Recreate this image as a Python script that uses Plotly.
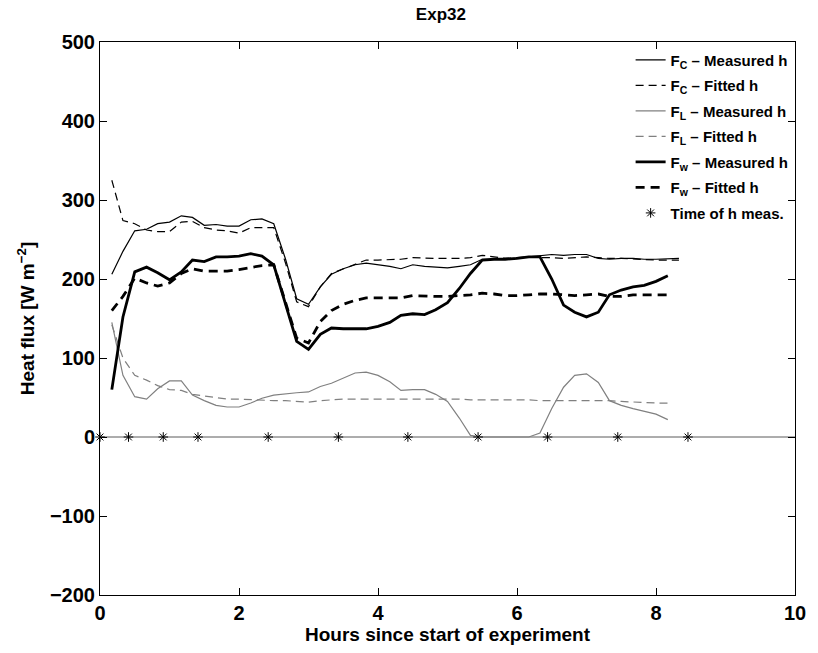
import plotly.graph_objects as go

hours = [0.17, 0.33, 0.50, 0.67, 0.83, 1.00, 1.17, 1.33, 1.50, 1.67,
         1.83, 2.00, 2.17, 2.33, 2.50, 2.67, 2.83, 3.00, 3.17, 3.33,
         3.50, 3.67, 3.83, 4.00, 4.17, 4.33, 4.50, 4.67, 4.83, 5.00,
         5.17, 5.33, 5.50, 5.67, 5.83, 6.00, 6.17, 6.33, 6.50, 6.67,
         6.83, 7.00, 7.17, 7.33, 7.50, 7.67, 7.83, 8.00, 8.17, 8.33]

fc_meas = [206, 235, 261, 263, 270, 272, 280, 278, 268, 269,
           267, 267, 275, 276, 270, 225, 175, 168, 190, 206,
           213, 218, 220, 218, 216, 213, 218, 216, 215, 214,
           216, 218, 225, 225, 226, 226, 228, 229, 231, 230,
           231, 231, 226, 225, 226, 226, 225, 225, 226, 226]
fc_fit = [325, 274, 270, 262, 260, 260, 272, 273, 265, 262,
          261, 258, 265, 265, 265, 220, 171, 165, 190, 207,
          213, 219, 224, 224, 225, 225, 227, 226, 226, 226,
          226, 227, 230, 228, 226, 227, 228, 227, 227, 226,
          227, 228, 227, 226, 226, 225, 225, 224, 224, 224]
fl_meas = [145, 78, 51, 48, 61, 71, 71, 53, 46, 40,
           38, 38, 43, 49, 53, 55, 56, 57, 64, 68,
           75, 81, 82, 78, 70, 59, 60, 60, 54, 45,
           24, 2, 0, 0, 0, 0, 0, 5, 36, 63,
           78, 80, 69, 46, 40, 36, 33, 29, 22]
fl_fit = [142, 100, 78, 72, 65, 60, 59, 54, 52, 50,
          48, 48, 47, 47, 46, 46, 45, 44, 46, 47,
          48, 48, 48, 48, 48, 48, 48, 48, 48, 48,
          48, 47, 47, 47, 47, 47, 47, 46, 46, 46,
          46, 46, 46, 46, 45, 44, 44, 43, 43]
fw_meas = [60, 152, 209, 215, 208, 199, 209, 224, 222, 228,
           228, 229, 232, 229, 218, 169, 121, 111, 130, 138,
           137, 137, 137, 140, 145, 154, 156, 155, 161, 170,
           188, 207, 224, 225, 225, 226, 228, 228, 200, 167,
           158, 152, 158, 180, 186, 190, 192, 197, 204]
fw_fit = [160, 178, 201, 195, 191, 195, 207, 213, 210, 210,
          210, 212, 215, 217, 218, 171, 125, 119, 146, 160,
          168, 173, 176, 176, 176, 176, 179, 178, 178, 178,
          179, 180, 182, 181, 179, 179, 180, 181, 181, 180,
          179, 180, 181, 178, 178, 180, 180, 180, 180]

meas_times = [0, 0.41, 0.91, 1.41, 2.42, 3.43, 4.43, 5.44, 6.44, 7.45, 8.46]
meas_vals = [0] * len(meas_times)

zero_x = [0, 10]
zero_y = [0, 0]

labels = ["F<sub>C</sub> – Measured h", "F<sub>C</sub> – Fitted h",
          "F<sub>L</sub> – Measured h", "F<sub>L</sub> – Fitted h",
          "F<sub>w</sub> – Measured h", "F<sub>w</sub> – Fitted h",
          "Time of h meas."]

GRAY = "rgb(128,128,128)"
FONT = "Liberation Sans, Arial, sans-serif"

fig = go.Figure()

fig.add_trace(go.Scatter(x=zero_x, y=zero_y, mode="lines",
                         line=dict(color="rgb(90,90,90)", width=1),
                         showlegend=False, hoverinfo="skip"))

series = [
    (fc_meas, labels[0], "black", 1.2, "solid"),
    (fc_fit, labels[1], "black", 1.2, "8px,5px"),
    (fl_meas, labels[2], GRAY, 1.2, "solid"),
    (fl_fit, labels[3], GRAY, 1.2, "8px,5px"),
    (fw_meas, labels[4], "black", 2.8, "solid"),
    (fw_fit, labels[5], "black", 2.8, "9px,6px"),
]
for i, (vals, name, col, w, dash) in enumerate(series):
    fig.add_trace(go.Scatter(x=hours[:len(vals)], y=vals, mode="lines",
                             name=name, legendgroup=f"g{i}",
                             line=dict(color=col, width=w, dash=dash)))

fig.add_trace(go.Scatter(x=meas_times, y=meas_vals, mode="markers",
                         name=labels[6], legendgroup="g6",
                         cliponaxis=False,
                         marker=dict(symbol="asterisk-open", size=8,
                                     color="black",
                                     line=dict(color="black", width=1))))

axis_common = dict(showline=True, linecolor="black", linewidth=1,
                   mirror="ticks", ticks="inside", ticklen=7,
                   tickcolor="black", showgrid=False, zeroline=False,
                   tickfont=dict(family=FONT, size=20, color="black",
                                 weight="bold"))

fig.update_xaxes(range=[0, 10], tickvals=[0, 2, 4, 6, 8, 10],
                 title=dict(text="Hours since start of experiment",
                            font=dict(family=FONT, size=19, color="black",
                                      weight="bold"),
                            standoff=1),
                 **axis_common)
fig.update_yaxes(range=[-200, 500],
                 tickvals=[-200, -100, 0, 100, 200, 300, 400, 500],
                 title=dict(text="Heat flux [W m<sup>−2</sup>]",
                            font=dict(family=FONT, size=19, color="black",
                                      weight="bold"),
                            standoff=10),
                 **axis_common)

fig.update_layout(
    width=818, height=653,
    margin=dict(l=100, r=17, t=42, b=58, pad=0),
    paper_bgcolor="white", plot_bgcolor="white",
    title=dict(text="Exp32", x=0.539, xanchor="center", y=0.988,
               yanchor="top",
               font=dict(family=FONT, size=17, color="black",
                         weight="bold")),
    showlegend=True,
    legend=dict(x=0.998, xanchor="right", y=0.997, yanchor="top",
                bgcolor="rgba(0,0,0,0)", borderwidth=0,
                traceorder="grouped", tracegroupgap=3,
                itemwidth=30,
                font=dict(family=FONT, size=15, color="black",
                          weight="bold")),
)

fig.write_html("out.html")
